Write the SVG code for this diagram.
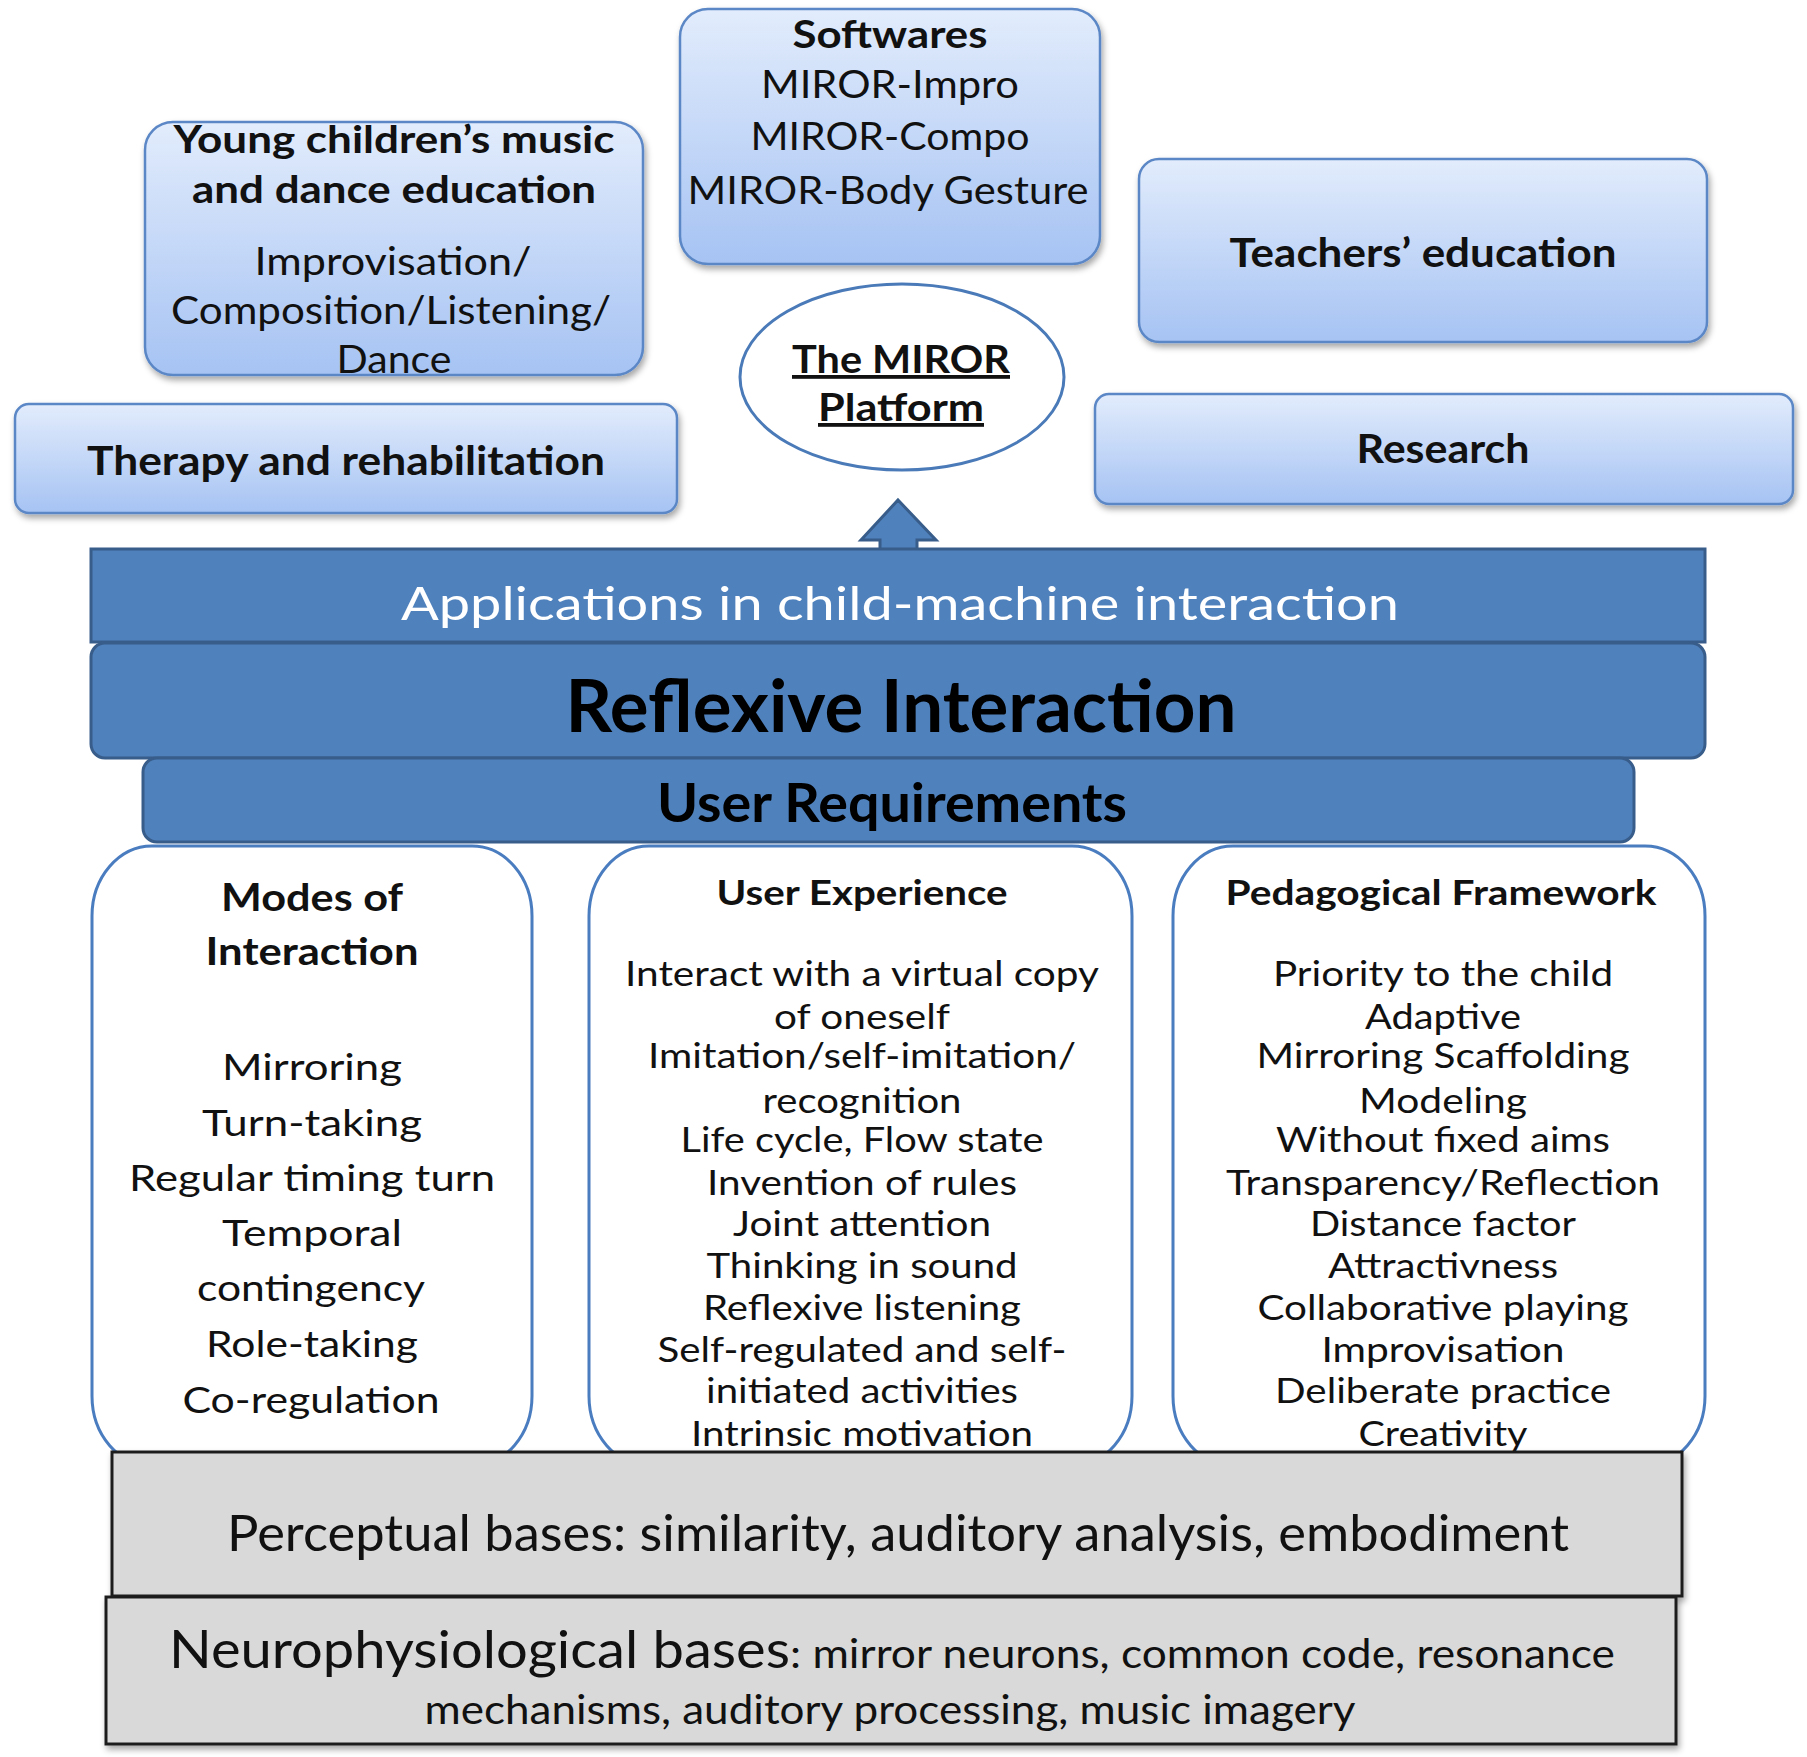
<svg xmlns="http://www.w3.org/2000/svg" width="1807" height="1757" viewBox="0 0 1807 1757">
<defs>
<linearGradient id="boxGrad" x1="0" y1="0" x2="0" y2="1">
<stop offset="0" stop-color="#e2ecfc"/>
<stop offset="1" stop-color="#a6c3f3"/>
</linearGradient>
<filter id="shadow" x="-5%" y="-5%" width="110%" height="120%">
<feDropShadow dx="2" dy="4" stdDeviation="3" flood-color="#000" flood-opacity="0.35"/>
</filter>
<style>
.top{fill:url(#boxGrad);stroke:#5b87c6;stroke-width:2.5;filter:url(#shadow)}
.bar{fill:#4f81bd;stroke:#385d8a;stroke-width:3}
.col{fill:#ffffff;stroke:#4a7cc0;stroke-width:3}
.grey{fill:#d9d9d9;stroke:#1e1e1e;stroke-width:3;filter:url(#shadow)}
text{font-family:Lato,"Open Sans","Liberation Sans",sans-serif;text-anchor:middle;fill:#111}
.b{font-weight:bold}
.t38{font-size:38px}
.t40{font-size:40px}
.it{font-size:34px}
.mi{font-size:37px}
</style>
</defs>
<rect width="1807" height="1757" fill="#ffffff"/>

<g id="softwares">
<rect class="top" x="680" y="9" width="420" height="255" rx="28"/>
<text class="b t38" x="890" y="48" textLength="195" lengthAdjust="spacingAndGlyphs">Softwares</text>
<text class="t38" x="890" y="98" textLength="258" lengthAdjust="spacingAndGlyphs">MIROR-Impro</text>
<text class="t38" x="890" y="150" textLength="279" lengthAdjust="spacingAndGlyphs">MIROR-Compo</text>
<text class="t38" x="888" y="204" textLength="401" lengthAdjust="spacingAndGlyphs">MIROR-Body Gesture</text>
</g>

<g id="young-children">
<rect class="top" x="145" y="122" width="498" height="253" rx="28"/>
<text class="b t38" x="394" y="153" textLength="441" lengthAdjust="spacingAndGlyphs">Young children’s music</text>
<text class="b t38" x="394" y="203" textLength="404" lengthAdjust="spacingAndGlyphs">and dance education</text>
<text class="t38" x="393" y="275" textLength="277" lengthAdjust="spacingAndGlyphs">Improvisation/</text>
<text class="t38" x="391" y="324" textLength="440" lengthAdjust="spacingAndGlyphs">Composition/Listening/</text>
<text class="t38" x="394" y="373" textLength="115" lengthAdjust="spacingAndGlyphs">Dance</text>
</g>

<g id="teachers">
<rect class="top" x="1139" y="159" width="568" height="183" rx="20"/>
<text class="b t40" x="1423" y="267" textLength="387" lengthAdjust="spacingAndGlyphs">Teachers’ education</text>
</g>

<g id="therapy">
<rect class="top" x="15" y="404" width="662" height="109" rx="14"/>
<text class="b t40" x="346" y="475" textLength="518" lengthAdjust="spacingAndGlyphs">Therapy and rehabilitation</text>
</g>

<g id="research">
<rect class="top" x="1095" y="394" width="698" height="110" rx="14"/>
<text class="b t40" x="1443" y="463" textLength="173" lengthAdjust="spacingAndGlyphs">Research</text>
</g>

<g id="miror-platform">
<ellipse cx="902" cy="377" rx="162" ry="93" fill="#ffffff" stroke="#4a7ab8" stroke-width="3"/>
<text class="b t38" x="901" y="373" text-decoration="underline" textLength="218" lengthAdjust="spacingAndGlyphs">The MIROR</text>
<text class="b t38" x="901" y="421" text-decoration="underline" textLength="166" lengthAdjust="spacingAndGlyphs">Platform</text>
</g>

<g id="connectors">
<path class="bar" d="M898 500 L936 540 L917 540 L917 551 L880 551 L880 540 L861 540 Z"/>
</g>

<g id="applications">
<rect class="bar" x="91" y="549" width="1614" height="93"/>
<text x="900" y="620" style="font-size:47px;fill:#ffffff" textLength="998" lengthAdjust="spacingAndGlyphs">Applications in child-machine interaction</text>
</g>

<g id="reflexive-interaction">
<rect class="bar" x="91" y="643" width="1614" height="115" rx="14"/>
<text class="b" x="901" y="732" style="font-size:72px;fill:#000" textLength="671" lengthAdjust="spacingAndGlyphs">Reflexive Interaction</text>
</g>

<g id="modes-of-interaction">
<rect class="col" x="92" y="846" width="440" height="620" rx="60" ry="70"/>
<text class="b t38" x="312" y="911" textLength="182" lengthAdjust="spacingAndGlyphs">Modes of</text>
<text class="b t38" x="312" y="965" textLength="213" lengthAdjust="spacingAndGlyphs">Interaction</text>
<text class="mi" x="312" y="1080" textLength="180" lengthAdjust="spacingAndGlyphs">Mirroring</text>
<text class="mi" x="312" y="1136" textLength="220" lengthAdjust="spacingAndGlyphs">Turn-taking</text>
<text class="mi" x="312" y="1191" textLength="366" lengthAdjust="spacingAndGlyphs">Regular timing turn</text>
<text class="mi" x="312" y="1246" textLength="180" lengthAdjust="spacingAndGlyphs">Temporal</text>
<text class="mi" x="311" y="1301" textLength="228" lengthAdjust="spacingAndGlyphs">contingency</text>
<text class="mi" x="312" y="1357" textLength="212" lengthAdjust="spacingAndGlyphs">Role-taking</text>
<text class="mi" x="311" y="1413" textLength="257" lengthAdjust="spacingAndGlyphs">Co-regulation</text>
</g>

<g id="user-experience">
<rect class="col" x="589" y="846" width="543" height="620" rx="60" ry="70"/>
<text class="b it" x="862" y="905" textLength="291" lengthAdjust="spacingAndGlyphs">User Experience</text>
<text class="it" x="862" y="986" textLength="474" lengthAdjust="spacingAndGlyphs">Interact with a virtual copy</text>
<text class="it" x="862" y="1029" textLength="176" lengthAdjust="spacingAndGlyphs">of oneself</text>
<text class="it" x="862" y="1068" textLength="428" lengthAdjust="spacingAndGlyphs">Imitation/self-imitation/</text>
<text class="it" x="862" y="1113" textLength="199" lengthAdjust="spacingAndGlyphs">recognition</text>
<text class="it" x="862" y="1152" textLength="363" lengthAdjust="spacingAndGlyphs">Life cycle, Flow state</text>
<text class="it" x="862" y="1195" textLength="310" lengthAdjust="spacingAndGlyphs">Invention of rules</text>
<text class="it" x="862" y="1236" textLength="258" lengthAdjust="spacingAndGlyphs">Joint attention</text>
<text class="it" x="862" y="1278" textLength="311" lengthAdjust="spacingAndGlyphs">Thinking in sound</text>
<text class="it" x="862" y="1320" textLength="318" lengthAdjust="spacingAndGlyphs">Reflexive listening</text>
<text class="it" x="862" y="1362" textLength="409" lengthAdjust="spacingAndGlyphs">Self-regulated and self-</text>
<text class="it" x="862" y="1403" textLength="312" lengthAdjust="spacingAndGlyphs">initiated activities</text>
<text class="it" x="862" y="1446" textLength="342" lengthAdjust="spacingAndGlyphs">Intrinsic motivation</text>
</g>

<g id="pedagogical-framework">
<rect class="col" x="1173" y="846" width="532" height="620" rx="60" ry="70"/>
<text class="b it" x="1441" y="905" textLength="431" lengthAdjust="spacingAndGlyphs">Pedagogical Framework</text>
<text class="it" x="1443" y="986" textLength="340" lengthAdjust="spacingAndGlyphs">Priority to the child</text>
<text class="it" x="1443" y="1029" textLength="156" lengthAdjust="spacingAndGlyphs">Adaptive</text>
<text class="it" x="1443" y="1068" textLength="373" lengthAdjust="spacingAndGlyphs">Mirroring Scaffolding</text>
<text class="it" x="1443" y="1113" textLength="168" lengthAdjust="spacingAndGlyphs">Modeling</text>
<text class="it" x="1443" y="1152" textLength="334" lengthAdjust="spacingAndGlyphs">Without fixed aims</text>
<text class="it" x="1443" y="1195" textLength="434" lengthAdjust="spacingAndGlyphs">Transparency/Reflection</text>
<text class="it" x="1443" y="1236" textLength="266" lengthAdjust="spacingAndGlyphs">Distance factor</text>
<text class="it" x="1443" y="1278" textLength="230" lengthAdjust="spacingAndGlyphs">Attractivness</text>
<text class="it" x="1443" y="1320" textLength="371" lengthAdjust="spacingAndGlyphs">Collaborative playing</text>
<text class="it" x="1443" y="1362" textLength="243" lengthAdjust="spacingAndGlyphs">Improvisation</text>
<text class="it" x="1443" y="1403" textLength="336" lengthAdjust="spacingAndGlyphs">Deliberate practice</text>
<text class="it" x="1443" y="1446" textLength="169" lengthAdjust="spacingAndGlyphs">Creativity</text>
</g>

<g id="user-requirements">
<rect class="bar" x="143" y="758" width="1491" height="84" rx="14"/>
<text class="b" x="892" y="822" style="font-size:54px;fill:#000" textLength="470" lengthAdjust="spacingAndGlyphs">User Requirements</text>
</g>

<g id="perceptual-bases">
<rect class="grey" x="112" y="1452" width="1570" height="144"/>
<text x="898" y="1551" style="font-size:50px" textLength="1342" lengthAdjust="spacingAndGlyphs">Perceptual bases: similarity, auditory analysis, embodiment</text>
</g>

<g id="neurophysiological-bases">
<rect class="grey" x="106" y="1597" width="1570" height="147"/>
<text x="169" y="1668" style="font-size:52px;text-anchor:start" textLength="621" lengthAdjust="spacingAndGlyphs">Neurophysiological bases</text>
<text x="790" y="1668" style="font-size:40px;text-anchor:start" textLength="825" lengthAdjust="spacingAndGlyphs">: mirror neurons, common code, resonance</text>
<text x="890" y="1724" style="font-size:40px" textLength="931" lengthAdjust="spacingAndGlyphs">mechanisms, auditory processing, music imagery</text>
</g>
</svg>
